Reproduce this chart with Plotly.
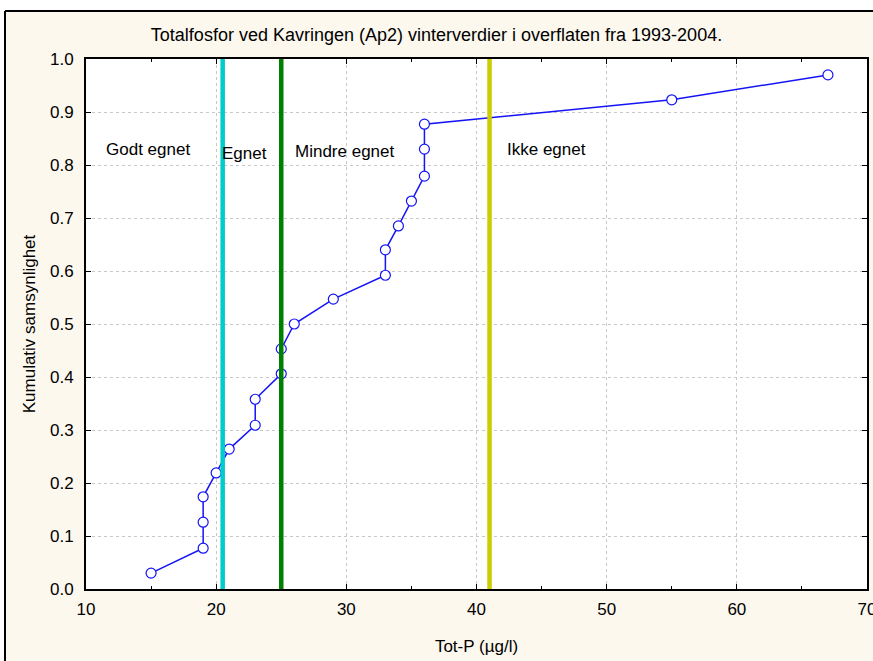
import plotly.graph_objects as go

# Data
tot_p = [15, 19, 19, 19, 20, 21, 23, 23, 25, 25, 26, 29, 33, 33, 34, 35, 36, 36, 36, 55, 67]
cum_prob = [0.030, 0.077, 0.126, 0.174, 0.219, 0.264, 0.309, 0.358, 0.406, 0.453, 0.500,
            0.547, 0.592, 0.640, 0.685, 0.732, 0.779, 0.830, 0.877, 0.923, 0.970]

limit_values = [20.5, 25, 41]
limit_colors = ["#00CCCC", "#008000", "#CCCC00"]

class_labels = ["Godt egnet", "Egnet", "Mindre egnet", "Ikke egnet"]
class_x = [14.76, 22.14, 29.87, 45.38]
class_y = [0.830, 0.821, 0.826, 0.830]

x_ticks = [10, 20, 30, 40, 50, 60, 70]
y_ticks = [0.0, 0.1, 0.2, 0.3, 0.4, 0.5, 0.6, 0.7, 0.8, 0.9, 1.0]

title_text = "Totalfosfor ved Kavringen (Ap2) vinterverdier i overflaten fra 1993-2004."
x_title = "Tot-P (µg/l)"
y_title = "Kumulativ samsynlighet"

FONT = "Liberation Sans, Arial"
CREAM = "#FDF8EE"

# plot-area pixel geometry (for placing the outer frame in paper units)
W, H = 873, 661
ML, MR, MT, MB = 86, 6, 59, 72
PW, PH = W - ML - MR, H - MT - MB


def px_x(p):
    return (p - ML) / PW


def px_y(p):
    return (H - MB - p) / PH


fig = go.Figure()

for v, c in zip(limit_values, limit_colors):
    fig.add_shape(type="line", xref="x", yref="paper", x0=v, x1=v, y0=0, y1=1,
                  line=dict(color=c, width=4.5), layer="above")

fig.add_trace(go.Scatter(
    x=tot_p, y=cum_prob, mode="lines+markers",
    line=dict(color="#1414F5", width=1.5),
    marker=dict(symbol="circle", size=10, color="white",
                line=dict(color="#1414F5", width=1.2)),
    showlegend=False, cliponaxis=False,
))

for t, x, y in zip(class_labels, class_x, class_y):
    fig.add_annotation(x=x, y=y, xref="x", yref="y", text=t, showarrow=False,
                       font=dict(family=FONT, size=17, color="black"))

# white surroundings outside the frame, and the frame itself (left + top edges)
fig.add_shape(type="rect", xref="paper", yref="paper",
              x0=px_x(-20), x1=px_x(5), y0=px_y(H + 20), y1=px_y(-20),
              line=dict(width=0), fillcolor="white", layer="below")
fig.add_shape(type="rect", xref="paper", yref="paper",
              x0=px_x(-20), x1=px_x(W + 20), y0=px_y(11), y1=px_y(-20),
              line=dict(width=0), fillcolor="white", layer="below")
fig.add_shape(type="line", xref="paper", yref="paper",
              x0=px_x(5), x1=px_x(5), y0=px_y(H + 20), y1=px_y(11),
              line=dict(color="black", width=2), layer="below")
fig.add_shape(type="line", xref="paper", yref="paper",
              x0=px_x(5), x1=px_x(W + 20), y0=px_y(11), y1=px_y(11),
              line=dict(color="black", width=2), layer="below")

axis_common = dict(
    showline=True, linecolor="black", linewidth=1.8, mirror="ticks",
    ticks="inside", ticklen=5, tickcolor="black", tickwidth=1,
    showgrid=True, gridcolor="#C8C8C8", griddash="dot", gridwidth=1,
    zeroline=False, automargin=False,
    tickfont=dict(family=FONT, size=17, color="black"),
)

fig.update_xaxes(range=[10, 70], tickvals=x_ticks, ticktext=[str(v) for v in x_ticks],
                 minor=dict(dtick=5, ticks="inside", ticklen=3, tickcolor="black", showgrid=False),
                 ticklabelstandoff=4, ticklabeloverflow="allow",
                 title=dict(text=x_title, standoff=22,
                            font=dict(family=FONT, size=17, color="black")),
                 **axis_common)
fig.update_yaxes(range=[0, 1], tickvals=y_ticks, ticktext=[f"{v:.1f}" for v in y_ticks],
                 ticklabelstandoff=7,
                 title=dict(text=y_title, standoff=10,
                            font=dict(family=FONT, size=17, color="black")),
                 **axis_common)

fig.update_layout(
    width=W, height=H,
    margin=dict(l=ML, r=MR, t=MT, b=MB, autoexpand=False),
    paper_bgcolor=CREAM, plot_bgcolor="white",
    title=dict(text=title_text, x=0.5, xanchor="center", y=1 - 35 / H, yanchor="middle",
               font=dict(family=FONT, size=18, color="black")),
    showlegend=False,
)

fig.write_html("out.html", config={"displayModeBar": False},
               post_script="document.body.style.margin='0';")
